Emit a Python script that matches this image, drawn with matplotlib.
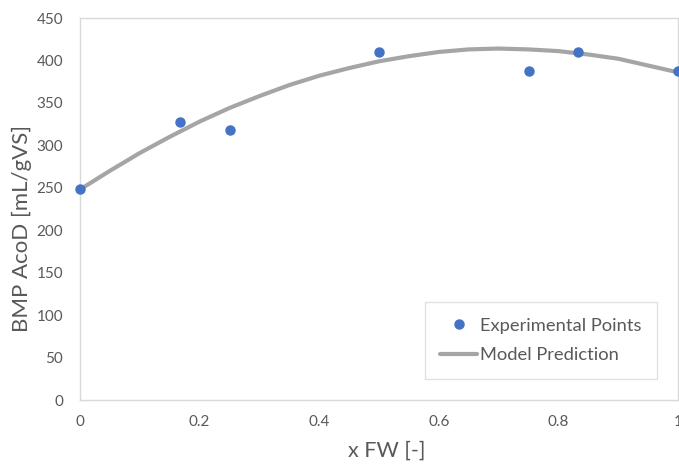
import matplotlib
matplotlib.use("Agg")
import matplotlib.pyplot as plt

# Experimental data
exp_x = [0.0, 0.167, 0.25, 0.5, 0.75, 0.833, 1.0]
exp_y = [248, 328, 318, 410, 387, 410, 387]

# Model prediction curve
model_x = [0.0, 0.05, 0.1, 0.15, 0.2, 0.25, 0.3, 0.35, 0.4, 0.45, 0.5,
           0.55, 0.6, 0.65, 0.7, 0.75, 0.8, 0.85, 0.9, 0.95, 1.0]
model_y = [248, 270, 291, 310, 328, 344, 358, 371, 382, 391, 399,
           405, 410, 413, 414, 413, 411, 407, 402, 394, 386]

x_ticks = [0, 0.2, 0.4, 0.6, 0.8, 1]
x_ticklabels = ["0", "0.2", "0.4", "0.6", "0.8", "1"]
y_ticks = [0, 50, 100, 150, 200, 250, 300, 350, 400, 450]

plt.rcParams['font.family'] = ['Lato', 'DejaVu Sans']
txt = '#595959'

fig = plt.figure(figsize=(6.79, 4.66), dpi=100)
ax = fig.add_axes([80/679, 1-400/466, 598/679, 382/466])

ax.plot(model_x, model_y, color='#A5A5A5', lw=3, label='Model Prediction',
        solid_capstyle='round', zorder=2)
ax.plot(exp_x, exp_y, 'o', color='#4472C4', ms=6.5, label='Experimental Points',
        clip_on=False, zorder=3)

ax.set_xlim(0, 1)
ax.set_ylim(0, 450)
ax.set_xticks(x_ticks)
ax.set_xticklabels(x_ticklabels)
ax.set_yticks(y_ticks)
ax.tick_params(length=0, labelsize=11, labelcolor=txt)
ax.tick_params(axis='x', pad=11)
ax.tick_params(axis='y', pad=12)
for s in ax.spines.values():
    s.set_color('#D9D9D9')
    s.set_linewidth(1)

ax.set_xlabel('x FW [-]', fontsize=15.5, color=txt)
ax.xaxis.set_label_coords((387-80)/598, (400-441)/382)
ax.set_ylabel('BMP AcoD [mL/gVS]', fontsize=16, color=txt, va='center')
ax.yaxis.set_label_coords((22-80)/598, (400-228)/382)

handles, labels = ax.get_legend_handles_labels()
leg = ax.legend(handles[::-1], labels[::-1], loc='lower right',
                bbox_to_anchor=(657/679, 1-379/466), bbox_transform=fig.transFigure,
                fontsize=13.2, frameon=True, fancybox=False, handlelength=2.0,
                handletextpad=0.15, borderpad=0.85, labelspacing=0.75,
                borderaxespad=0)
leg.get_frame().set_edgecolor('#D9D9D9')
leg.get_frame().set_linewidth(1)
for t in leg.get_texts():
    t.set_color(txt)

fig.savefig('out.png', dpi=100)
